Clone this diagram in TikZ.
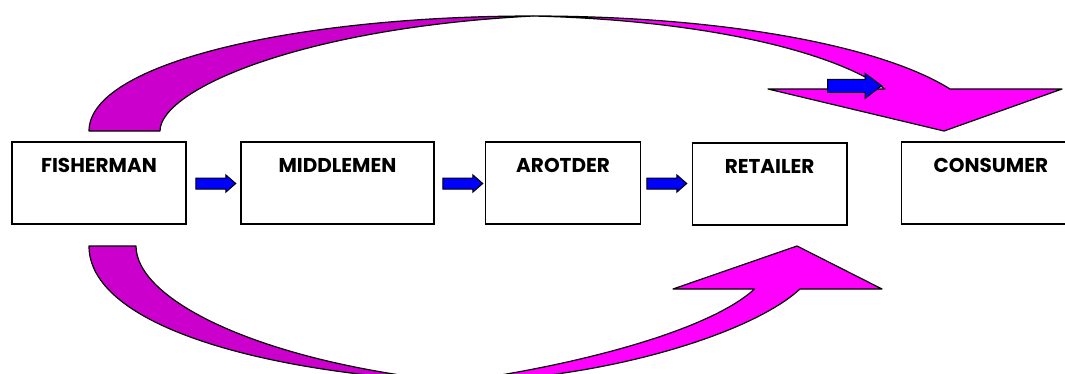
\documentclass[tikz,border=0pt]{standalone}
\usepackage{fontspec}
\setmainfont{Poppins}
\definecolor{magdark}{HTML}{CC00CC}
\definecolor{magbright}{HTML}{FF00FF}
\begin{document}
\begin{tikzpicture}[x=1pt,y=-1pt,
  box/.style={draw=black, line width=1.5pt, fill=white, rectangle,
    minimum height=82pt, inner xsep=0pt, inner ysep=15.7pt,
    text height=15pt, text depth=35.3pt,
    font=\fontsize{20}{20}\selectfont\bfseries},
  band/.style={draw=black, line width=1.2pt, line join=round},
  darkmag/.style={band, fill=magdark},
  brightmag/.style={band, fill=magbright},
  blk/.style={draw=black, line width=1pt, fill=blue, line join=miter},
  smallarrow/.pic={\filldraw[blk] (0,-5.5) -- (30,-5.5) -- (30,-8.7) -- (40,0) -- (30,8.7) -- (30,5.5) -- (0,5.5) -- cycle;},
  bigarrow/.pic={\filldraw[blk] (0,-6.5) -- (37.3,-6.5) -- (37.3,-12.5) -- (54,0) -- (37.3,12.5) -- (37.3,6.5) -- (0,6.5) -- cycle;}
]
\useasboundingbox (0,0) rectangle (1065,373);
\clip (0,0) rectangle (1065,373);
\fill[white] (0,0) rectangle (1065,373);

% top curved arrow (Fisherman -> Consumer)
\filldraw[darkmag] (89,131) .. controls (89,62) and (300,16) .. (533,16)
  .. controls (300,28) and (160,90) .. (160,131) -- cycle;
\filldraw[brightmag] (533,16) .. controls (720,16) and (880,45) .. (950,89)
  -- (1062,89) -- (944,131) -- (768,89) -- (885,89)
  .. controls (830,50) and (700,20) .. (533,16) -- cycle;

% bottom curved arrow (Fisherman -> Retailer)
\filldraw[darkmag] (89,246) .. controls (89,322) and (250,372) .. (455,382)
  .. controls (260,362) and (136,300) .. (136,246) -- cycle;
\filldraw[brightmag] (455,382) .. controls (580,365) and (710,330) .. (754.5,289)
  -- (673,289) -- (797,246) -- (882,289) -- (800,289)
  .. controls (750,335) and (600,380) .. (455,382) -- cycle;

% boxes
\node[box, minimum width=174pt] (f) at (99,183) {FISHERMAN};
\node[box, minimum width=193pt] (m) at (337.5,183) {MIDDLEMEN};
\node[box, minimum width=155.2pt] (a) at (563.1,183) {AROTDER};
\node[box, minimum width=154.7pt] (r) at (769.6,184) {RETAILER};
\node[box, minimum width=178.3pt] (c) at (990.85,183) {CONSUMER};

% blue block arrows
\pic at ([xshift=9pt,yshift=-0.5pt]f.east) {smallarrow};
\pic at ([xshift=8pt,yshift=-0.5pt]m.east) {smallarrow};
\pic at ([xshift=5.3pt,yshift=-0.5pt]a.east) {smallarrow};
\pic at (827.7,85.8) {bigarrow};
\end{tikzpicture}
\end{document}
